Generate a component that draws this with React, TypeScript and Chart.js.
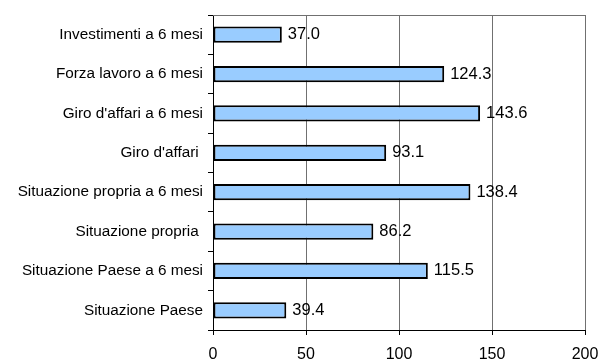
import React, { useEffect, useRef } from "react";
import { Chart, registerables } from "chart.js";

Chart.register(...registerables);

const categories = [
  "Investimenti a 6 mesi",
  "Forza lavoro a 6 mesi",
  "Giro d'affari a 6 mesi",
  "Giro d'affari ",
  "Situazione propria a 6 mesi",
  "Situazione propria ",
  "Situazione Paese a 6 mesi",
  "Situazione Paese",
];
const values = [37.0, 124.3, 143.6, 93.1, 138.4, 86.2, 115.5, 39.4];
const xMin = 0;
const xMax = 200;
const xStep = 50;

const FONT = 'Arial, "Liberation Sans", sans-serif';

// Gray top edge of the plot frame
const frameTop = {
  id: "frameTop",
  afterDraw(chart: any) {
    const { ctx, chartArea } = chart;
    ctx.save();
    ctx.fillStyle = "#707070";
    ctx.fillRect(
      Math.round(chartArea.left),
      Math.round(chartArea.top),
      Math.round(chartArea.right - chartArea.left) + 1,
      1
    );
    ctx.restore();
  },
};

// Value printed to the right of every bar
const valueLabels = {
  id: "valueLabels",
  afterDatasetsDraw(chart: any) {
    const { ctx } = chart;
    const meta = chart.getDatasetMeta(0);
    const data = chart.data.datasets[0].data as number[];
    ctx.save();
    ctx.font = `16.5px ${FONT}`;
    ctx.fillStyle = "#000";
    ctx.textAlign = "left";
    ctx.textBaseline = "middle";
    meta.data.forEach((bar: any, i: number) => {
      ctx.fillText(data[i].toFixed(1), bar.x + 6, bar.y);
    });
    ctx.restore();
  },
};

export default function App() {
  const canvasRef = useRef<HTMLCanvasElement | null>(null);

  useEffect(() => {
    if (!canvasRef.current) return;
    const chart = new Chart(canvasRef.current, {
      type: "bar",
      data: {
        labels: categories,
        datasets: [
          {
            data: values,
            backgroundColor: "#99CCFF",
            borderColor: "#000000",
            borderWidth: 2,
            borderSkipped: false,
            barPercentage: 0.41,
            categoryPercentage: 1,
          },
        ],
      },
      options: {
        indexAxis: "y",
        responsive: false,
        animation: false,
        layout: { padding: { top: 15, right: 18, left: 0, bottom: 0 } },
        plugins: {
          legend: { display: false },
          tooltip: { enabled: false },
        },
        scales: {
          x: {
            type: "linear",
            min: xMin,
            max: xMax,
            ticks: {
              stepSize: xStep,
              color: "#000",
              padding: 10,
              font: { family: FONT, size: 16 },
              maxRotation: 0,
            },
            grid: {
              color: "#707070",
              lineWidth: 1,
              drawTicks: true,
              tickLength: 5,
              tickColor: "#000",
            },
            border: { display: true, color: "#000", width: 1 },
            afterFit(scale: any) {
              scale.height = 32;
              scale.paddingLeft = 0;
              scale.paddingRight = 0;
            },
          },
          y: {
            type: "category",
            offset: true,
            ticks: {
              color: "#000",
              padding: 5,
              font: { family: FONT, size: 15.3 },
              autoSkip: false,
            },
            grid: {
              offset: true,
              drawOnChartArea: false,
              drawTicks: true,
              tickLength: 5,
              tickColor: "#000",
            },
            border: { display: true, color: "#000", width: 1 },
            afterFit(scale: any) {
              scale.width = 213;
              scale.paddingTop = 0;
              scale.paddingBottom = 0;
            },
          },
        },
      },
      plugins: [frameTop, valueLabels],
    });
    return () => chart.destroy();
  }, []);

  return (
    <div style={{ position: "absolute", left: 0, top: 0, width: 603, height: 362, background: "#fff" }}>
      <canvas ref={canvasRef} width={603} height={362} style={{ display: "block" }} />
    </div>
  );
}
